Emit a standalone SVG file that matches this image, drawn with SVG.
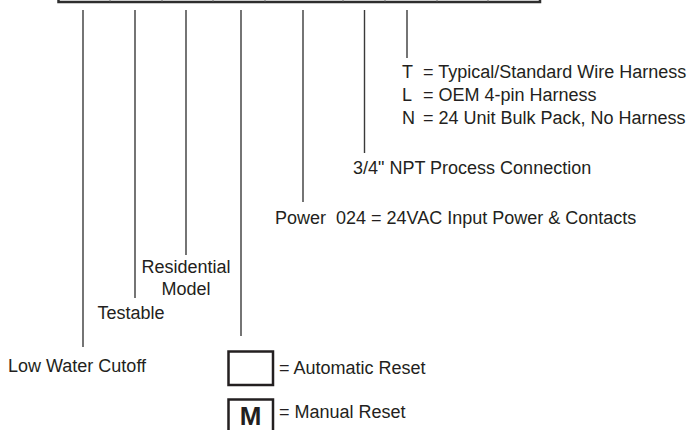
<svg xmlns="http://www.w3.org/2000/svg" width="697" height="430" viewBox="0 0 697 430">
<style>
  .t { font-family: "Liberation Sans", Arial, sans-serif; font-size: 18px; fill: #231f20; }
  .c { stroke: #3a3a3a; stroke-width: 1.4; fill: none; }
  .box { stroke: #231f20; stroke-width: 2.5; fill: #fff; }
  .div { stroke: #777; stroke-width: 1; }
</style>
<rect width="697" height="430" fill="#fff"/>
<g id="code-bar">
  <rect x="58.5" y="-20" width="481.5" height="22" fill="none" stroke="#2e2e2e" stroke-width="2.5"/>
  <line class="div" x1="110" y1="-20" x2="110" y2="1.5"/>
  <line class="div" x1="162" y1="-20" x2="162" y2="1.5"/>
  <line class="div" x1="213" y1="-20" x2="213" y2="1.5"/>
  <line class="div" x1="265" y1="-20" x2="265" y2="1.5"/>
  <line class="div" x1="343" y1="-20" x2="343" y2="1.5"/>
  <line class="div" x1="385" y1="-20" x2="385" y2="1.5"/>
  <line class="div" x1="437" y1="-20" x2="437" y2="1.5"/>
  <line class="div" x1="488" y1="-20" x2="488" y2="1.5"/>
</g>
<g id="connectors">
  <line class="c" x1="83" y1="10" x2="83" y2="347"/>
  <line class="c" x1="135" y1="10" x2="135" y2="298"/>
  <line class="c" x1="186" y1="10" x2="186" y2="255"/>
  <line class="c" x1="241" y1="10" x2="241" y2="336"/>
  <line class="c" x1="303" y1="10" x2="303" y2="202"/>
  <line class="c" x1="364.5" y1="10" x2="364.5" y2="153"/>
  <line class="c" x1="407" y1="10" x2="407" y2="58"/>
</g>
<g id="low-water-cutoff">
  <text class="t" x="8" y="372">Low Water Cutoff</text>
</g>
<g id="testable">
  <text class="t" x="131" y="319" text-anchor="middle">Testable</text>
</g>
<g id="residential-model">
  <text class="t" x="186" y="273" text-anchor="middle">Residential</text>
  <text class="t" x="186" y="295" text-anchor="middle">Model</text>
</g>
<g id="reset">
  <rect class="box" x="228.5" y="351.5" width="44.5" height="33.5"/>
  <text class="t" x="279" y="374">= Automatic Reset</text>
  <rect class="box" x="228.5" y="399.5" width="44.5" height="40"/>
  <text x="250.5" y="425" text-anchor="middle" font-family="Liberation Sans, Arial, sans-serif" font-weight="bold" font-size="26" fill="#231f20">M</text>
  <text class="t" x="279" y="418">= Manual Reset</text>
</g>
<g id="power">
  <text class="t" x="275" y="224">Power</text>
  <text class="t" x="336" y="224">024 = 24VAC Input Power &amp; Contacts</text>
</g>
<g id="process-connection">
  <text class="t" x="353" y="174">3/4" NPT Process Connection</text>
</g>
<g id="harness">
  <text class="t" x="402" y="78">T</text>
  <text class="t" x="423" y="78">= Typical/Standard Wire Harness</text>
  <text class="t" x="402" y="101">L</text>
  <text class="t" x="423" y="101">= OEM 4-pin Harness</text>
  <text class="t" x="402" y="124">N</text>
  <text class="t" x="423" y="124">= 24 Unit Bulk Pack, No Harness</text>
</g>
</svg>
